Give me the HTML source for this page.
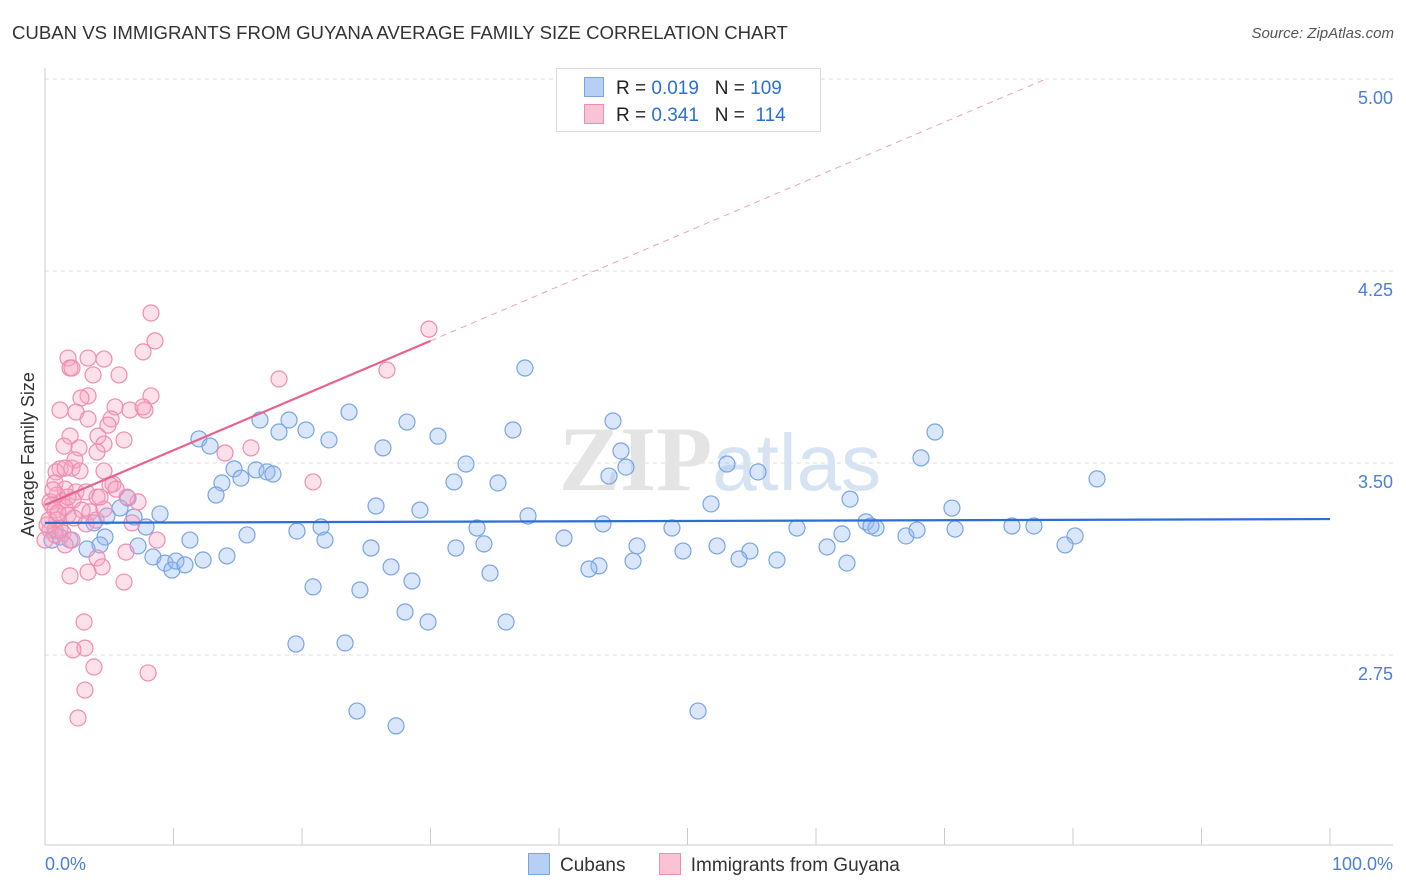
<!DOCTYPE html>
<html><head><meta charset="utf-8"><style>
body{margin:0;background:#fff;font-family:"Liberation Sans",sans-serif;}
#wrap{position:relative;width:1406px;height:892px;overflow:hidden;}
.t{position:absolute;white-space:nowrap;}
</style></head><body>
<div id="wrap">
<div class="t" style="left:12px;top:22px;font-size:18.6px;color:#333;">CUBAN VS IMMIGRANTS FROM GUYANA AVERAGE FAMILY SIZE CORRELATION CHART</div>
<div class="t" style="right:12px;top:25px;font-size:15px;color:#555;font-style:italic;">Source: ZipAtlas.com</div>
<div class="t" style="left:-54px;top:444px;font-size:18px;color:#333;transform:rotate(-90deg);">Average Family Size</div>
<svg id="chart" width="1406" height="892" style="position:absolute;left:0;top:0;"></svg>
</div>
<script>
const yTicks=[2.75,3.5,4.25,5.0];
const yTickLabels=["2.75","3.50","4.25","5.00"];
const xTickLabels=["0.0%","100.0%"];
const cubanX=[37.35,44.2,28.17,18.99,16.73,23.66,20.31,18.21,11.98,12.84,22.1,30.58,36.42,26.3,44.82,32.76,45.21,14.71,16.42,17.28,17.74,15.25,13.77,13.31,31.83,35.25,43.89,53.07,55.49,69.26,68.17,81.87,6.46,5.84,4.82,8.95,6.93,7.86,3.81,25.76,29.18,37.59,51.83,62.65,70.58,63.89,64.67,64.28,75.25,48.79,43.42,33.62,58.52,70.82,67.0,67.86,80.16,79.38,19.61,21.48,21.79,15.72,11.28,4.67,4.28,3.27,1.95,1.17,0.54,0.78,7.24,8.4,9.34,9.88,10.19,10.89,12.3,14.16,25.37,31.98,34.16,40.39,46.07,49.65,52.3,54.86,54.01,60.86,62.02,45.76,43.11,42.33,26.93,34.63,28.56,20.86,24.51,28.02,29.81,35.88,19.53,23.35,24.28,27.32,50.82,56.96,62.41,76.96];
const cubanY=[3.871,3.664,3.660,3.668,3.668,3.699,3.629,3.621,3.594,3.566,3.590,3.605,3.629,3.559,3.547,3.496,3.484,3.477,3.473,3.465,3.457,3.441,3.422,3.375,3.426,3.422,3.449,3.496,3.465,3.621,3.520,3.438,3.363,3.324,3.293,3.301,3.289,3.250,3.266,3.332,3.316,3.293,3.340,3.359,3.324,3.270,3.246,3.254,3.254,3.246,3.262,3.246,3.246,3.242,3.215,3.238,3.215,3.180,3.234,3.250,3.199,3.219,3.199,3.211,3.180,3.164,3.199,3.211,3.199,3.238,3.176,3.133,3.109,3.082,3.117,3.102,3.121,3.137,3.168,3.168,3.184,3.207,3.176,3.156,3.176,3.156,3.125,3.172,3.223,3.117,3.098,3.086,3.094,3.070,3.039,3.016,3.004,2.918,2.879,2.879,2.793,2.797,2.531,2.473,2.531,3.121,3.109,3.254];
const guyX=[8.25,29.88,8.56,7.63,1.79,3.35,4.59,1.95,2.1,3.74,5.76,18.21,26.61,8.25,3.35,2.8,1.17,2.41,5.45,7.78,6.61,7.63,3.35,5.14,4.9,1.95,4.12,6.15,4.59,2.65,1.48,1.17,2.1,14.01,16.03,4.05,2.33,2.72,0.86,1.56,4.59,20.86,5.29,0.78,1.56,2.41,3.19,4.05,0.93,1.32,2.18,0.39,0.78,1.56,1.79,2.88,3.5,0.31,0.93,2.26,3.19,0.39,1.17,3.97,7.24,6.77,0.78,1.4,2.1,1.56,8.72,6.3,4.05,1.95,3.35,4.44,6.15,3.04,3.11,2.18,3.81,8.02,3.11,2.57,0.54,1.01,0.16,4.59,6.38,1.79,5.06,0.62,4.28,5.53,0];
const guyY=[4.086,4.023,3.977,3.934,3.910,3.910,3.906,3.871,3.871,3.844,3.844,3.828,3.863,3.762,3.762,3.754,3.707,3.699,3.719,3.707,3.707,3.719,3.672,3.672,3.648,3.605,3.605,3.590,3.574,3.559,3.566,3.477,3.480,3.539,3.559,3.543,3.512,3.469,3.465,3.480,3.469,3.426,3.418,3.422,3.398,3.387,3.387,3.367,3.375,3.352,3.355,3.348,3.316,3.328,3.297,3.316,3.309,3.277,3.277,3.285,3.262,3.238,3.246,3.277,3.348,3.266,3.219,3.227,3.199,3.180,3.199,3.152,3.129,3.059,3.074,3.094,3.035,2.879,2.777,2.770,2.703,2.680,2.613,2.504,3.336,3.305,3.258,3.320,3.367,3.367,3.414,3.395,3.367,3.398,3.199];
const cubanTrend=[3.266,3.281];
const guyTrend=[3.336,3.977];

const svg=document.getElementById('chart');
const NS='http://www.w3.org/2000/svg';
const X0=45,X1=1330,Y0=845;
function xs(p){return X0+(X1-X0)*p/100;}
function ys(v){return 463-(v-3.5)*256;}
function mk(tag,attrs,parent){const e=document.createElementNS(NS,tag);for(const k in attrs)e.setAttribute(k,attrs[k]);(parent||svg).appendChild(e);return e;}

yTicks.forEach((v,i)=>{
  const g=mk('line',{x1:X0,x2:1393,y1:ys(v),y2:ys(v),stroke:'#dcdcdc','stroke-dasharray':'4,4'});
  
  
  const t=mk('text',{x:1393,y:ys(v)+25,'text-anchor':'end','font-size':'18','fill':'#4a7fd8','font-family':'Liberation Sans, sans-serif'});
  t.textContent=yTickLabels[i];
  
  
});
let a=mk('line',{x1:X0,x2:X0,y1:68,y2:Y0,stroke:'#ccc'});


a=mk('line',{x1:X0,x2:1393,y1:Y0,y2:Y0,stroke:'#ccc'});


for(let i=0;i<=10;i++){
  const tk=mk('line',{x1:xs(i*10),x2:xs(i*10),y1:828,y2:Y0,stroke:'#ccc'});
  
  
}
[[0,'start',45],[100,'end',1393]].forEach((d,i)=>{
  const t=mk('text',{x:d[2],y:870,'text-anchor':d[1],'font-size':'18','fill':'#4a7fd8','font-family':'Liberation Sans, sans-serif'});
  t.textContent=xTickLabels[i];
  
  
});
const wm=mk('text',{x:720,y:490,'text-anchor':'middle','font-size':'92','fill':'#e4e4e4','font-family':'Liberation Serif, serif','font-weight':'bold'});
wm.innerHTML='ZIP<tspan fill="#d6e3f3" font-family="Liberation Sans, sans-serif" font-weight="normal" font-size="80">atlas</tspan>';



cubanX.forEach((x,i)=>{
  const c=mk('circle',{cx:xs(x),cy:ys(cubanY[i]),r:8,fill:'rgba(150,185,240,0.35)',stroke:'#78a4e4','stroke-width':1.2});
  
  
});
guyX.forEach((x,i)=>{
  const c=mk('circle',{cx:xs(x),cy:ys(guyY[i]),r:8,fill:'rgba(245,165,195,0.35)',stroke:'#f08cb0','stroke-width':1.2});
  
  
});
let l=mk('line',{x1:xs(0),x2:xs(100),y1:ys(cubanTrend[0]),y2:ys(cubanTrend[1]),stroke:'#2c6fd4','stroke-width':2.2});


const slope=(guyTrend[1]-guyTrend[0])/30;
const xEnd=(5.0-guyTrend[0])/slope;
l=mk('line',{x1:xs(30),x2:xs(xEnd),y1:ys(guyTrend[1]),y2:ys(5.0),stroke:'#eea0ba','stroke-width':1,'stroke-dasharray':'6,5'});


l=mk('line',{x1:xs(0),x2:xs(30),y1:ys(guyTrend[0]),y2:ys(guyTrend[1]),stroke:'#e8628f','stroke-width':2.2});


</script>
<div class="t" style="left:556px;top:68px;width:263px;height:62px;border:1px solid #ddd;background:#fff;font-size:19px;color:#222;">
 <div style="position:absolute;left:27px;top:8px;">
  <span style="display:inline-block;width:18px;height:18px;background:#b7cff4;border:1px solid #7aa5e2;vertical-align:-3px;margin-right:12px;"></span>R = <span style="color:#2c6fd4">0.019</span>&nbsp;&nbsp;&nbsp;N = <span style="color:#2c6fd4">109</span></div>
 <div style="position:absolute;left:27px;top:35px;">
  <span style="display:inline-block;width:18px;height:18px;background:#f9c3d5;border:1px solid #f08cb0;vertical-align:-3px;margin-right:12px;"></span>R = <span style="color:#2c6fd4">0.341</span>&nbsp;&nbsp;&nbsp;N = &nbsp;<span style="color:#2c6fd4">114</span></div>
</div>
<div class="t" style="left:528px;top:853px;font-size:19px;color:#333;">
 <span><span style="display:inline-block;width:20px;height:20px;background:#b7cff4;border:1px solid #7aa5e2;vertical-align:-4px;margin-right:10px;"></span>Cubans</span>
 <span style="margin-left:28px;"><span style="display:inline-block;width:20px;height:20px;background:#f9c3d5;border:1px solid #f08cb0;vertical-align:-4px;margin-right:10px;"></span>Immigrants from Guyana</span>
</div>
</body></html>
